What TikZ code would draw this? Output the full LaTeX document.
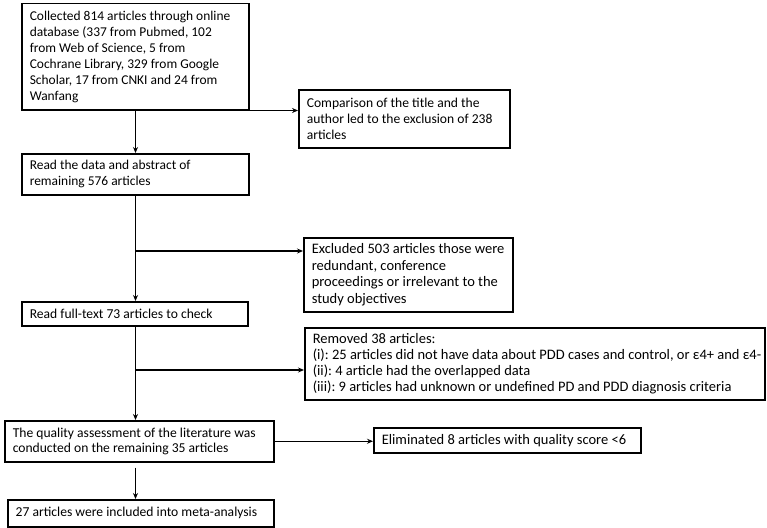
\documentclass[tikz,border=0pt]{standalone}
\usepackage{fontspec}
\setmainfont{Carlito}
\usetikzlibrary{arrows.meta}
\newcommand\myl[1]{\mbox{#1}}
\begin{document}
\begin{tikzpicture}[x=1pt,y=-1pt,
  box/.style={draw, line width=1.5pt, anchor=north west, align=flush left,
    inner xsep=8pt, inner ysep=0pt},
  fa/.style={font={\fontsize{13.45}{16}\selectfont\frenchspacing}},
  fb/.style={font={\fontsize{13.6}{15.7}\selectfont\frenchspacing}},
  fd/.style={font={\fontsize{14.5}{16.7}\selectfont\frenchspacing}},
  fe/.style={font={\fontsize{14.5}{16.3}\selectfont\frenchspacing}},
  fc/.style={font={\fontsize{13.6}{15}\selectfont\frenchspacing}},
  arr/.style={line width=1.4pt, -{Stealth[length=6pt,width=5pt]}}]
\useasboundingbox (0,0) rectangle (767,527);
\fill[white] (0,0) rectangle (767,527);

\node[box, fa, minimum width=227pt, minimum height=106pt, text width=211pt] (b1) at (21,3)
 {\myl{Collected 814 articles through online}\\\myl{database (337 from Pubmed, 102}\\\myl{from Web of Science, 5 from}\\\myl{Cochrane Library, 329 from Google}\\\myl{Scholar, 17 from CNKI and 24 from}\\Wanfang};
\node[box, fb, minimum width=211pt, minimum height=58pt, text width=195pt] (b2) at (298,89)
 {\myl{Comparison of the title and the}\\\myl{author led to the exclusion of 238}\\articles};
\node[box, fa, minimum width=227pt, minimum height=41pt, text width=211pt] (b3) at (21,153)
 {\myl{Read the data and abstract of}\\\myl{remaining 576 articles}};
\node[box, fd, minimum width=209pt, minimum height=74pt, text width=193pt] (b4) at (303,237)
 {\myl{Excluded 503 articles those were}\\\myl{redundant, conference}\\\myl{proceedings or irrelevant to the}\\\myl{study objectives}};
\node[box, fc, minimum width=226pt, minimum height=24pt, text width=210pt] (b5) at (21,301)
 {\myl{Read full-text 73 articles to check}};
\node[box, fe, minimum width=460pt, minimum height=72pt, text width=444pt] (b6) at (304,327)
 {\myl{Removed 38 articles:}\\\myl{(i): 25 articles did not have data about PDD cases and control, or ε4+ and ε4-}\\\myl{(ii): 4 article had the overlapped data}\\\myl{(iii): 9 articles had unknown or undefined PD and PDD diagnosis criteria}};
\node[box, fc, minimum width=269pt, minimum height=41pt, text width=253pt] (b7) at (4,420)
 {\myl{The quality assessment of the literature was}\\\myl{conducted on the remaining 35 articles}};
\node[box, fd, minimum width=267pt, minimum height=25pt, text width=251pt] (b8) at (373,427)
 {\myl{Eliminated 8 articles with quality score <6}};
\node[box, fc, minimum width=266pt, minimum height=27pt, text width=250pt] (b9) at (7,499)
 {\myl{27 articles were included into meta-analysis}};

\coordinate (cx) at (135.5,0);
\coordinate (j1) at (135.5,251);
\coordinate (j2) at (135.5,370);

\draw[arr] (b1.south -| cx) -- (b3.north -| cx);
\draw[arr] (b1.south east) -- (b1.south east -| b2.west);
\draw[arr] (b3.south -| cx) -- (b5.north -| cx);
\draw[arr] (j1) -- (j1 -| b4.west);
\draw[arr] (b5.south -| cx) -- (b7.north -| cx);
\draw[arr] (j2) -- (j2 -| b6.west);
\draw[arr] (b7.east) -- (b7.east -| b8.west);
\draw[arr] ([yshift=-5pt]b7.south -| cx) -- (b9.north -| cx);
\end{tikzpicture}
\end{document}
